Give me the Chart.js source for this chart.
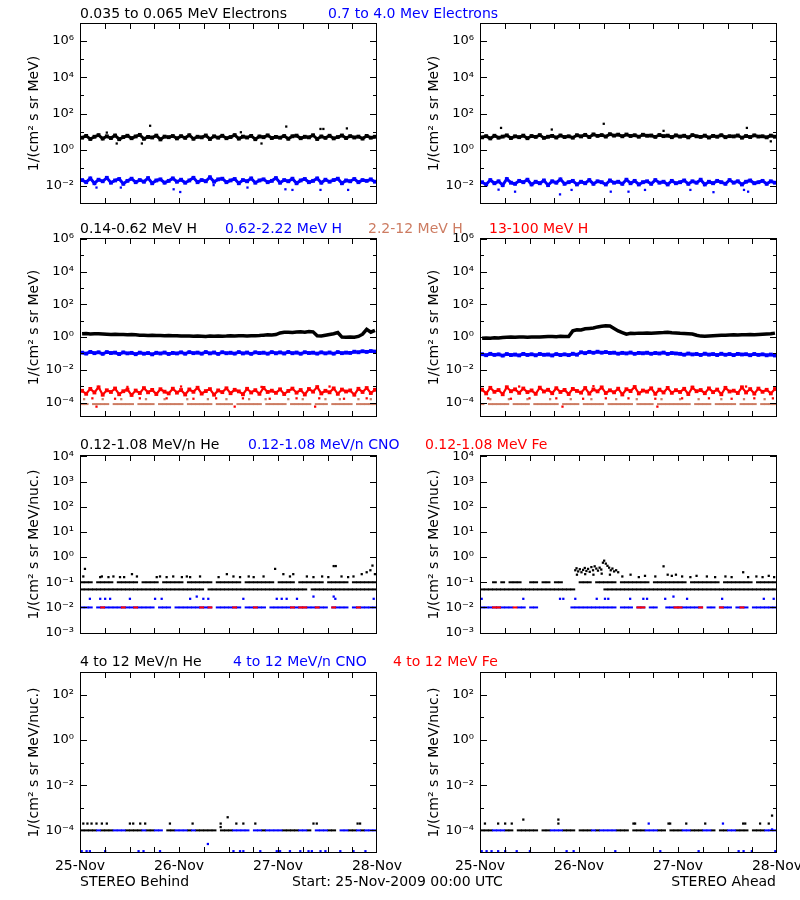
<!DOCTYPE html>
<html>
<head>
<meta charset="utf-8">
<script src="https://cdn.jsdelivr.net/npm/chart.js"></script>
<style>
  body { margin: 0; background: #fff; }
  #page { position: relative; width: 800px; height: 900px; overflow: hidden; font-family: 'DejaVu Sans', sans-serif; color: #000; }
  #page canvas { position: absolute; }
  .lbl { position: absolute; font-size: 14px; line-height: 16px; white-space: nowrap; z-index: 2; }
  .blue { color: #0000ff; }
  .red { color: #ff0000; }
  .salmon { color: #cd7c62; }
</style>
</head>
<body>
<div id="page">
  <div class="lbl" style="left:80px;top:5px">0.035 to 0.065 MeV Electrons</div>
  <div class="lbl blue" style="left:328px;top:5px">0.7 to 4.0 Mev Electrons</div>

  <div class="lbl" style="left:80px;top:220px">0.14-0.62 MeV H</div>
  <div class="lbl blue" style="left:225px;top:220px">0.62-2.22 MeV H</div>
  <div class="lbl salmon" style="left:368px;top:220px">2.2-12 MeV H</div>
  <div class="lbl red" style="left:489px;top:220px">13-100 MeV H</div>

  <div class="lbl" style="left:80px;top:436px">0.12-1.08 MeV/n He</div>
  <div class="lbl blue" style="left:248px;top:436px">0.12-1.08 MeV/n CNO</div>
  <div class="lbl red" style="left:425px;top:436px">0.12-1.08 MeV Fe</div>

  <div class="lbl" style="left:80px;top:653px">4 to 12 MeV/n He</div>
  <div class="lbl blue" style="left:233px;top:653px">4 to 12 MeV/n CNO</div>
  <div class="lbl red" style="left:393px;top:653px">4 to 12 MeV Fe</div>

  <div class="lbl" style="left:80px;top:873px">STEREO Behind</div>
  <div class="lbl" style="left:292px;top:873px">Start: 25-Nov-2009 00:00 UTC</div>
  <div class="lbl" style="right:24px;top:873px">STEREO Ahead</div>
</div>
<script>
const _ = null;

// hourly samples over 25-Nov 00:00 .. 28-Nov 00:00 (x in hours)
const hours = Array.from({ length: 72 }, (v, i) => i + 0.5);
const dayTicks = [0, 24, 48, 72];
const dayLabels = ['25-Nov', '26-Nov', '27-Nov', '28-Nov'];

// ---- row 1: electrons ----
const eBehindLo = [4.6,5.8,3.9,5.2,6.4,4.1,5.5,4.4,6.1,3.8,5.0,5.9,4.3,5.4,6.6,4.0,5.1,4.7,6.0,3.7,5.3,4.9,5.7,4.2,
  5.6,4.5,6.3,4.0,5.2,4.8,6.1,3.9,5.5,4.6,5.9,4.3,5.0,6.4,4.1,5.3,4.7,5.8,3.8,5.4,4.9,6.2,4.4,5.1,
  4.6,5.7,4.0,5.5,6.0,4.3,5.2,4.8,6.3,3.9,5.4,4.5,5.9,4.2,5.0,6.1,4.4,5.6,4.7,5.3,4.1,5.8,4.6,5.2];
const eBehindLoOut = [[6.5,8.8],[8.9,2.2],[15,2.2],[17,21],[39,9.2],[44,2.2],[50,19],[58.3,14],[59,14],[64.7,15]];
const eBehindHi = [0.021,0.016,0.026,0.014,0.022,0.018,0.028,0.015,0.020,0.024,0.013,0.019,0.025,0.016,0.021,0.017,0.027,0.014,0.020,0.023,0.015,0.019,0.026,0.017,
  0.022,0.015,0.020,0.028,0.016,0.021,0.018,0.030,0.017,0.023,0.025,0.016,0.020,0.024,0.014,0.021,0.018,0.026,0.015,0.020,0.023,0.016,0.019,0.027,
  0.015,0.021,0.018,0.025,0.014,0.020,0.024,0.016,0.019,0.026,0.015,0.022,0.017,0.021,0.025,0.014,0.020,0.018,0.024,0.016,0.021,0.019,0.023,0.017];
const eBehindHiOut = [[4,0.0081],[9.9,0.0081],[22.7,0.0065],[24.3,0.0046],[32.4,0.011],[40.6,0.0081],[49.8,0.0065],[51.5,0.006],[58.3,0.006],[65,0.006]];

const eAheadLo = [4.8,5.6,4.2,5.9,4.6,5.3,6.2,4.4,5.5,4.9,6.0,4.3,5.7,5.1,6.4,4.5,5.2,5.8,4.7,6.1,5.0,5.5,4.6,6.3,
  5.4,6.6,5.0,7.0,5.8,6.4,5.3,7.2,6.0,6.8,5.5,6.9,5.7,6.3,5.2,6.7,5.9,6.1,5.1,6.5,5.6,6.0,4.9,6.2,
  5.3,5.9,4.8,6.4,5.5,5.1,6.0,4.7,5.8,5.2,6.3,4.9,5.6,5.4,6.1,4.6,5.7,5.0,6.2,5.3,5.5,4.8,6.0,5.2];
const eAheadLoOut = [[5.1,16],[17.4,13],[30,27],[44.5,11],[64.7,16],[70.5,2.9]];
const eAheadHi = [0.016,0.012,0.021,0.014,0.018,0.011,0.024,0.015,0.013,0.019,0.016,0.022,0.012,0.017,0.014,0.020,0.011,0.018,0.015,0.023,0.013,0.016,0.019,0.012,
  0.017,0.014,0.021,0.013,0.018,0.016,0.012,0.020,0.015,0.017,0.013,0.022,0.014,0.019,0.012,0.016,0.018,0.013,0.021,0.015,0.017,0.012,0.019,0.014,
  0.016,0.020,0.013,0.018,0.015,0.022,0.012,0.017,0.014,0.019,0.016,0.013,0.021,0.015,0.018,0.012,0.017,0.020,0.014,0.016,0.019,0.013,0.018,0.015];
const eAheadHiOut = [[4.5,0.0062],[8.5,0.0048],[19.4,0.0034],[22.2,0.006],[31.7,0.0048],[36,0.0048],[40,0.006],[51,0.006],[56.6,0.0045],[64,0.006],[65,0.0048]];

// ---- row 2: protons ----
const pBehind1 = [1.6,1.65,1.55,1.6,1.62,1.55,1.5,1.45,1.48,1.42,1.45,1.4,1.43,1.38,1.3,1.28,1.25,1.3,1.24,1.27,1.22,1.26,1.2,1.23,
  1.18,1.15,1.17,1.12,1.16,1.14,1.1,1.15,1.13,1.16,1.12,1.15,1.2,1.18,1.22,1.19,1.17,1.21,1.2,1.24,1.32,1.38,1.35,1.42,
  1.8,1.95,2.0,1.9,2.05,2.1,2.0,2.2,2.1,1.2,1.18,1.3,1.45,1.6,1.9,1.0,0.98,1.02,0.97,1.1,1.5,3.0,2.0,2.6];
const pBehind2 = [0.112,0.098,0.124,0.104,0.118,0.095,0.121,0.106,0.113,0.092,0.116,0.101,0.109,0.09,0.112,0.097,0.106,0.088,0.11,0.099,0.114,0.093,0.108,0.1,
  0.117,0.096,0.12,0.104,0.113,0.097,0.122,0.101,0.115,0.094,0.119,0.103,0.111,0.098,0.121,0.1,0.114,0.095,0.118,0.105,0.112,0.097,0.12,0.102,
  0.116,0.099,0.123,0.103,0.114,0.096,0.119,0.106,0.112,0.098,0.117,0.101,0.115,0.097,0.121,0.104,0.113,0.108,0.128,0.118,0.136,0.125,0.14,0.13];
const pBehind3 = [8e-5,8e-5,_,8e-5,8e-5,8e-5,8e-5,_,8e-5,8e-5,8e-5,8e-5,8e-5,_,8e-5,8e-5,8e-5,8e-5,_,8e-5,8e-5,8e-5,8e-5,8e-5,
  8e-5,_,8e-5,8e-5,8e-5,8e-5,8e-5,8e-5,_,8e-5,8e-5,8e-5,8e-5,_,8e-5,8e-5,8e-5,8e-5,8e-5,8e-5,_,8e-5,8e-5,8e-5,
  8e-5,8e-5,_,8e-5,8e-5,8e-5,8e-5,8e-5,_,8e-5,8e-5,8e-5,_,8e-5,8e-5,8e-5,8e-5,8e-5,_,8e-5,8e-5,8e-5,8e-5,8e-5];
const pBehind3Out = [[1,1.6e-4],[5.5,1.6e-4],[10,1.6e-4],[16,1.6e-4],[20.5,1.6e-4],[26,1.6e-4],[31,1.6e-4],[35.5,1.6e-4],[41,1.6e-4],[45,1.6e-4],[50.5,1.6e-4],[54,1.6e-4],[59.5,1.6e-4],[63,1.6e-4],[67.5,1.6e-4],[70.5,1.6e-4]];
const pBehind4 = [5.2e-4,3.4e-4,6.8e-4,4.1e-4,8.5e-4,3.0e-4,5.6e-4,4.4e-4,7.2e-4,3.2e-4,4.9e-4,6.1e-4,2.9e-4,5.4e-4,3.8e-4,7.6e-4,4.2e-4,5.9e-4,3.3e-4,6.5e-4,4.6e-4,3.6e-4,7.0e-4,4.0e-4,
  5.8e-4,3.1e-4,6.3e-4,4.5e-4,8.0e-4,3.5e-4,5.0e-4,6.6e-4,3.0e-4,5.5e-4,4.3e-4,7.4e-4,3.7e-4,6.0e-4,4.8e-4,3.2e-4,6.9e-4,4.1e-4,5.7e-4,3.4e-4,7.8e-4,4.4e-4,5.3e-4,3.9e-4,
  6.4e-4,3.3e-4,5.1e-4,7.1e-4,4.0e-4,5.8e-4,3.1e-4,6.7e-4,4.6e-4,8.8e-4,3.6e-4,5.2e-4,4.2e-4,7.3e-4,3.4e-4,6.2e-4,4.7e-4,5.5e-4,3.0e-4,6.9e-4,4.4e-4,7.7e-4,3.8e-4,6.0e-4];
const pBehind4Out = [[3,1.8e-4],[8.5,1.7e-4],[14.5,1.8e-4],[21,1.8e-4],[27.5,1.7e-4],[33,1.8e-4],[39.5,1.8e-4],[46,1.7e-4],[52.5,1.8e-4],[58,1.8e-4],[64,1.7e-4],[69.5,1.8e-4],[4,5.6e-5],[37.5,5.6e-5],[57,5.6e-5],
  [11.5,9e-4],[24.5,9.5e-4],[44,9e-4],[60.5,9.5e-4]];

const pAhead1 = [0.85,0.88,0.86,0.9,0.87,0.95,0.98,1.0,0.97,1.02,1.0,0.99,1.03,1.01,1.0,1.05,1.08,1.1,1.06,1.12,1.1,1.08,2.4,2.8,
  2.7,3.2,3.4,3.6,4.2,4.6,5.0,4.8,3.4,2.4,1.9,1.5,1.7,1.65,1.75,1.7,1.8,1.72,1.78,1.85,1.9,2.0,1.85,1.8,
  1.7,1.65,1.6,1.55,1.3,1.15,1.12,1.18,1.22,1.25,1.28,1.3,1.35,1.38,1.36,1.4,1.37,1.42,1.4,1.45,1.5,1.55,1.6,1.75];
const pAhead2 = [0.09,0.078,0.095,0.082,0.088,0.074,0.092,0.08,0.086,0.076,0.094,0.081,0.089,0.077,0.093,0.083,0.087,0.075,0.091,0.08,0.088,0.079,0.096,0.084,
  0.118,0.104,0.125,0.11,0.128,0.112,0.122,0.108,0.112,0.097,0.109,0.1,0.114,0.095,0.108,0.102,0.111,0.096,0.107,0.099,0.113,0.094,0.106,0.1,
  0.095,0.084,0.099,0.087,0.093,0.081,0.097,0.085,0.091,0.08,0.096,0.083,0.092,0.079,0.094,0.086,0.09,0.078,0.093,0.082,0.088,0.077,0.086,0.075];
const pAhead3 = [8e-5,_,8e-5,8e-5,8e-5,8e-5,8e-5,_,8e-5,8e-5,8e-5,8e-5,_,8e-5,8e-5,8e-5,8e-5,8e-5,8e-5,_,8e-5,8e-5,8e-5,8e-5,
  _,8e-5,8e-5,8e-5,8e-5,8e-5,_,8e-5,8e-5,8e-5,8e-5,8e-5,8e-5,_,8e-5,8e-5,8e-5,8e-5,_,8e-5,8e-5,8e-5,8e-5,8e-5,
  8e-5,8e-5,8e-5,_,8e-5,8e-5,8e-5,8e-5,_,8e-5,8e-5,8e-5,8e-5,8e-5,_,8e-5,8e-5,8e-5,8e-5,_,8e-5,8e-5,8e-5,8e-5];
const pAhead3Out = [[2.5,1.6e-4],[7,1.6e-4],[11.5,1.6e-4],[17,1.6e-4],[22,1.6e-4],[27,1.6e-4],[33,1.6e-4],[38,1.6e-4],[44,1.6e-4],[48.5,1.6e-4],[53,1.6e-4],[58.5,1.6e-4],[64,1.6e-4],[69,1.6e-4]];
const pAhead4 = [6.1e-4,3.6e-4,7.9e-4,4.5e-4,5.8e-4,3.2e-4,8.6e-4,4.9e-4,6.4e-4,3.9e-4,7.2e-4,4.3e-4,5.5e-4,3.4e-4,8.1e-4,4.7e-4,6.0e-4,3.7e-4,7.5e-4,4.4e-4,5.9e-4,3.3e-4,6.8e-4,5.1e-4,
  4.0e-4,7.7e-4,3.5e-4,6.3e-4,4.8e-4,8.4e-4,3.8e-4,5.6e-4,4.2e-4,7.0e-4,3.1e-4,6.5e-4,5.0e-4,8.9e-4,3.6e-4,5.4e-4,4.6e-4,7.4e-4,3.4e-4,6.1e-4,4.1e-4,7.8e-4,3.9e-4,5.7e-4,
  4.4e-4,6.9e-4,3.3e-4,8.2e-4,4.9e-4,5.8e-4,3.7e-4,7.3e-4,4.3e-4,6.2e-4,3.2e-4,7.9e-4,4.7e-4,5.3e-4,3.8e-4,8.5e-4,4.1e-4,6.6e-4,3.5e-4,7.1e-4,4.5e-4,6.0e-4,3.6e-4,6.7e-4];
const pAhead4Out = [[2,1.8e-4],[7.5,1.7e-4],[12,1.8e-4],[18.5,1.8e-4],[25,1.7e-4],[30.5,1.8e-4],[36,1.8e-4],[42.5,1.7e-4],[49,1.8e-4],[55.5,1.8e-4],[61,1.7e-4],[66.5,1.8e-4],[71,1.8e-4],[20,5.6e-5],[43,5.6e-5],
  [9.5,9.5e-4],[27.5,1e-3],[51.5,9e-4],[64.5,9.5e-4]];

// ---- row 3: 0.12-1.08 MeV/n heavy ions ----
const heBehindA = [.052,.052,.052,.052,.052,.052,.052,.052,.052,.052,.052,.052,.052,.052,.052,.052,.052,.052,.052,.052,.052,.052,.052,.052,
  .052,.052,.052,.052,.052,.052,_,.052,.052,.052,.052,.052,.052,.052,.052,.052,.052,.052,.052,.052,.052,.052,.052,.052,
  .052,.052,.052,.052,.052,.052,.052,_,.052,.052,.052,.052,.052,.052,.052,.052,.052,.052,.052,.052,.052,.052,.052,.052];
const heBehindB = [.1,.1,.1,_,.1,.1,.1,.1,_,.1,.1,.1,.1,.1,_,.1,.1,.1,.1,_,.1,.1,.1,.1,
  .1,_,.1,.1,.1,.1,.1,.1,_,.1,.1,.1,.1,.1,.1,_,.1,.1,.1,.1,.1,.1,.1,_,
  .1,.1,.1,.1,_,.1,.1,.1,.1,.1,.1,_,.1,.1,.1,.1,.1,_,.1,.1,.1,.1,.1,.1];
const heBehindOut = [[0.8,0.17],[1.2,0.34],[4.9,0.16],[5.3,0.17],[6.9,0.16],[8.1,0.17],[9.7,0.16],[10.7,0.16],[12.6,0.21],[13.8,0.17],[18.6,0.16],[19.4,0.17],[21,0.16],[22.6,0.17],
  [24.7,0.16],[25.9,0.17],[26.7,0.16],[29.1,0.17],[33.6,0.16],[35.6,0.21],[37.2,0.17],[38.8,0.16],[40.9,0.17],[42.1,0.16],[44.5,0.17],[47.3,0.34],[49.3,0.21],[50.9,0.17],
  [51.7,0.21],[55,0.17],[56.6,0.16],[58.7,0.17],[60.2,0.16],[61.5,0.44],[62,0.44],[63.4,0.17],[65,0.16],[66.3,0.17],[68.3,0.21],[69.5,0.25],[70.4,0.3],[70.9,0.46],[71.5,0.21]];
const cnoBehindA = [.01,.01,.01,_,.01,.01,.01,.01,.01,.01,.01,.01,.01,.01,.01,.01,.01,.01,_,.01,.01,.01,_,.01,
  .01,.01,.01,.01,.01,.01,.01,.01,_,.01,.01,.01,.01,.01,.01,_,.01,.01,.01,.01,.01,_,.01,.01,
  .01,.01,.01,.01,.01,.01,.01,.01,.01,.01,.01,.01,_,.01,.01,.01,.01,_,.01,.01,.01,.01,.01,.01];
const cnoBehindOut = [[2.4,0.022],[4.9,0.022],[6.1,0.022],[7.3,0.022],[12.1,0.022],[18.2,0.022],[19.8,0.022],[26.7,0.022],[28.3,0.027],[29.9,0.022],[31.1,0.022],[39.6,0.022],
  [47.7,0.022],[48.9,0.022],[50.1,0.022],[52.6,0.022],[56.6,0.027],[61.5,0.027],[61.9,0.022],[71.2,0.022]];
const feBehindA = [_,_,_,_,_,.01,_,_,_,_,.01,_,_,.01,_,_,_,_,_,_,_,_,_,_,
  _,_,_,_,_,.01,_,.01,_,_,_,_,_,.01,_,_,_,_,.01,_,_,_,_,_,
  _,_,_,.01,_,.01,.01,_,_,.01,_,_,_,.01,_,_,_,_,_,.01,_,_,_,_];

const heAheadA = [.052,.052,.052,.052,.052,.052,.052,.052,.052,.052,.052,.052,.052,.052,.052,.052,.052,.052,.052,.052,.052,.052,.052,_,
  _,_,_,_,_,_,.052,.052,.052,.052,.052,.052,.052,.052,.052,.052,.052,.052,.052,.052,.052,.052,.052,.052,
  .052,.052,.052,.052,.052,.052,.052,.052,.052,.052,.052,.052,.052,.052,.052,.052,.052,.052,.052,.052,.052,.052,.052,.052];
const heAheadB = [_,_,_,.1,_,.1,_,.1,.1,.1,_,_,.1,.1,_,.1,.1,_,.1,.1,_,_,_,_,
  .1,.1,.1,_,.1,.1,.1,.1,.1,_,.1,.1,.1,.1,.1,.1,.1,_,.1,.1,.1,.1,.1,.1,
  .1,.1,_,.1,.1,.1,.1,.1,.1,.1,_,.1,.1,.1,.1,.1,.1,.1,_,.1,.1,.1,.1,.1];
const heAheadOut = [[23.1,0.3],[23.4,0.36],[23.8,0.27],[24.2,0.33],[24.6,0.25],[25,0.31],[25.4,0.37],[25.8,0.28],[26.2,0.34],[26.6,0.26],[27,0.4],[27.4,0.3],[27.8,0.43],
  [28.2,0.35],[28.6,0.29],[29,0.38],[29.4,0.32],[29.8,0.6],[30.1,0.72],[30.5,0.55],[30.9,0.45],[31.3,0.38],[31.7,0.3],[32.1,0.35],[32.5,0.27],[33,0.3],[33.5,0.25],
  [23.5,0.2],[25.5,0.21],[27.5,0.2],[29.5,0.22],[31.5,0.2],[34.5,0.17],[36.5,0.2],[38.5,0.16],[40,0.18],[42.5,0.17],[44.5,0.43],[45.5,0.2],[46.5,0.18],[47.5,0.2],
  [49,0.17],[51,0.16],[52.5,0.18],[55,0.17],[57,0.16],[59.5,0.17],[61,0.16],[63.8,0.25],[65,0.16],[67,0.17],[68.5,0.16],[70,0.18],[71.3,0.16]];
const cnoAheadA = [.01,.01,.01,.01,.01,.01,.01,.01,_,.01,.01,_,.01,.01,_,_,_,_,_,_,_,_,.01,.01,
  .01,.01,.01,.01,.01,.01,.01,.01,.01,_,.01,.01,.01,_,.01,.01,_,.01,.01,_,_,.01,.01,.01,
  .01,.01,.01,.01,.01,.01,_,.01,.01,_,.01,.01,.01,_,.01,.01,.01,_,.01,.01,.01,.01,.01,.01];
const cnoAheadOut = [[0.4,0.022],[10.5,0.022],[19.4,0.022],[20.2,0.022],[23.1,0.022],[28.3,0.022],[30.3,0.022],[31.1,0.022],[36.4,0.022],[39.6,0.022],[40.5,0.022],
  [44.9,0.022],[46.9,0.027],[50.2,0.022],[58.7,0.022],[68.8,0.022],[71.2,0.022]];
const feAheadA = [_,_,_,.01,.01,_,_,_,.01,_,_,_,_,_,_,_,_,_,_,_,_,_,_,_,
  _,_,_,_,_,_,_,_,_,_,_,_,_,_,.01,.01,_,_,_,_,_,_,_,.01,
  .01,_,_,_,_,.01,_,_,_,_,.01,_,_,_,_,.01,_,_,_,_,_,_,_,_];

// ---- row 4: 4-12 MeV/n heavy ions ----
const he4BehindA = [1e-4,1e-4,1e-4,1e-4,_,1e-4,1e-4,1e-4,_,_,_,1e-4,1e-4,1e-4,1e-4,_,1e-4,1e-4,_,_,_,1e-4,1e-4,_,
  _,_,1e-4,_,1e-4,1e-4,1e-4,1e-4,1e-4,_,1e-4,1e-4,1e-4,_,_,_,_,_,_,_,1e-4,_,_,_,
  _,1e-4,1e-4,1e-4,1e-4,_,_,1e-4,_,_,_,_,1e-4,1e-4,_,_,_,1e-4,1e-4,_,1e-4,_,_,_];
const he4BehindOut = [[0.8,2e-4],[1.8,2e-4],[2.8,2e-4],[4,2e-4],[5.3,2e-4],[6.5,2e-4],[12.1,2e-4],[12.9,2e-4],[14.6,2e-4],[15.8,2e-4],[21.8,2e-4],[27.3,2e-4],
  [34.1,2e-4],[34.1,1.4e-4],[35.8,3.8e-4],[37.9,2e-4],[39.6,2e-4],[42.5,2e-4],[56.6,2e-4],[57.4,2e-4],[67.3,2e-4],[67.9,2e-4]];
const cno4BehindA = [_,_,_,_,1e-4,_,_,_,1e-4,1e-4,1e-4,_,_,_,_,1e-4,_,_,1e-4,1e-4,_,_,_,1e-4,
  1e-4,1e-4,_,1e-4,_,_,_,_,_,_,_,_,_,1e-4,1e-4,1e-4,1e-4,_,1e-4,1e-4,_,1e-4,1e-4,1e-4,
  1e-4,_,_,_,_,1e-4,1e-4,_,_,1e-4,1e-4,1e-4,_,_,_,1e-4,1e-4,_,_,1e-4,_,1e-4,1e-4,1e-4];
const cno4BehindOut = [[0.4,1.2e-5],[1.6,1.2e-5],[2.4,1.2e-5],[6.1,1.2e-5],[14.2,1.2e-5],[15.4,1.2e-5],[19.4,1.2e-5],[31,2.5e-5],[37.2,1.2e-5],[38.8,1.2e-5],[39.6,1.2e-5],
  [43.7,1.2e-5],[47.7,1.2e-5],[48.5,1.2e-5],[50.9,1.2e-5],[53.4,1.2e-5],[55.4,1.2e-5],[56.2,1.2e-5],[58.3,1.2e-5],[59.5,1.2e-5],[63.1,1.2e-5],[66.3,1.2e-5],[69.2,1.2e-5]];

const he4AheadA = [1e-4,1e-4,1e-4,_,_,_,1e-4,1e-4,_,1e-4,1e-4,1e-4,1e-4,1e-4,_,1e-4,1e-4,_,_,_,1e-4,1e-4,1e-4,_,
  1e-4,1e-4,1e-4,_,1e-4,_,_,_,_,1e-4,1e-4,1e-4,_,1e-4,1e-4,1e-4,_,_,_,1e-4,1e-4,_,1e-4,1e-4,
  1e-4,_,_,1e-4,1e-4,1e-4,_,_,1e-4,_,1e-4,1e-4,_,_,1e-4,1e-4,1e-4,_,1e-4,1e-4,1e-4,_,_,_];
const he4AheadOut = [[1.2,2e-4],[4.4,2e-4],[6.1,2e-4],[7.7,2e-4],[10.5,3e-4],[19,2e-4],[19,3e-4],[37.2,2e-4],[37.6,2e-4],[45.7,2e-4],[46.1,2e-4],[50,2e-4],
  [54.6,2e-4],[63.8,2e-4],[64.3,2e-4],[67.9,2e-4],[70,2e-4],[70.8,4.5e-4]];
const cno4AheadA = [_,_,_,1e-4,1e-4,1e-4,_,_,_,_,_,_,_,_,_,_,_,1e-4,1e-4,1e-4,_,_,_,_,
  _,_,_,1e-4,_,1e-4,1e-4,1e-4,1e-4,_,_,_,_,_,_,_,1e-4,1e-4,1e-4,_,_,_,_,_,
  _,1e-4,1e-4,_,_,_,1e-4,1e-4,_,_,_,_,1e-4,1e-4,_,_,_,_,_,_,_,1e-4,1e-4,1e-4];
const cno4AheadOut = [[0.4,1.2e-5],[1.6,1.2e-5],[2.8,1.2e-5],[4.4,1.2e-5],[6.1,1.2e-5],[8.9,1.2e-5],[12.1,1.2e-5],[21,1.2e-5],[22.7,1.2e-5],[32.8,1.2e-5],[43.7,1.2e-5],
  [53,1.2e-5],[62.7,1.2e-5],[63.9,1.2e-5],[65.9,1.2e-5],[71.6,1.2e-5],[40.9,2e-4],[58.9,2e-4],[70.8,1.1e-4]];

const BLACK = '#000000', BLUE = '#0000ff', RED = '#ff0000', SALMON = '#cd7c62';

const band = (d, c, w) => ({ kind: 'band', d, c, w });
const line = (d, c) => ({ kind: 'line', d, c });
const level = (d, c) => ({ kind: 'level', d, c });
const dots = (d, c) => ({ kind: 'dots', d, c });

const rows = [
  { top: 23, min: 1e-3, max: 1e7, major: [1e-2, 1, 1e2, 1e4, 1e6], minor: [1e-1, 10, 1e3, 1e5], unit: '1/(cm² s sr MeV)' },
  { top: 238, min: 1.3e-5, max: 1.15e6, major: [1e-4, 1e-2, 1, 1e2, 1e4, 1e6], minor: [1e-3, 1e-1, 10, 1e3, 1e5], unit: '1/(cm² s sr MeV)' },
  { top: 455, min: 8.8e-4, max: 1.14e4, major: [1e-3, 1e-2, 1e-1, 1, 10, 1e2, 1e3, 1e4], minor: [], unit: '1/(cm² s sr MeV/nuc.)' },
  { top: 672, min: 1e-5, max: 1e3, major: [1e-4, 1e-2, 1, 1e2], minor: [1e-3, 1e-1, 10], unit: '1/(cm² s sr MeV/nuc.)', dates: true }
];

const panels = [
  { row: 0, col: 0, series: [band(eBehindLo, BLACK, 3), dots(eBehindLoOut, BLACK), band(eBehindHi, BLUE, 3), dots(eBehindHiOut, BLUE)] },
  { row: 0, col: 1, series: [band(eAheadLo, BLACK, 3), dots(eAheadLoOut, BLACK), band(eAheadHi, BLUE, 3), dots(eAheadHiOut, BLUE)] },
  { row: 1, col: 0, series: [line(pBehind1, BLACK), band(pBehind2, BLUE, 3), level(pBehind3, SALMON), dots(pBehind3Out, SALMON), band(pBehind4, RED, 2.2), dots(pBehind4Out, RED)] },
  { row: 1, col: 1, series: [line(pAhead1, BLACK), band(pAhead2, BLUE, 3), level(pAhead3, SALMON), dots(pAhead3Out, SALMON), band(pAhead4, RED, 2.2), dots(pAhead4Out, RED)] },
  { row: 2, col: 0, series: [level(heBehindA, BLACK), level(heBehindB, BLACK), dots(heBehindOut, BLACK), level(cnoBehindA, BLUE), dots(cnoBehindOut, BLUE), level(feBehindA, RED)] },
  { row: 2, col: 1, series: [level(heAheadA, BLACK), level(heAheadB, BLACK), dots(heAheadOut, BLACK), level(cnoAheadA, BLUE), dots(cnoAheadOut, BLUE), level(feAheadA, RED)] },
  { row: 3, col: 0, series: [level(he4BehindA, BLACK), dots(he4BehindOut, BLACK), level(cno4BehindA, BLUE), dots(cno4BehindOut, BLUE)] },
  { row: 3, col: 1, series: [level(he4AheadA, BLACK), dots(he4AheadOut, BLACK), level(cno4AheadA, BLUE), dots(cno4AheadOut, BLUE)] }
];

const SUP = { '-': '⁻', '0': '⁰', '1': '¹', '2': '²', '3': '³', '4': '⁴', '5': '⁵', '6': '⁶', '7': '⁷', '8': '⁸', '9': '⁹' };
const pow10 = v => '10' + String(Math.round(Math.log10(v))).split('').map(ch => SUP[ch]).join('');

function toDataset(s) {
  const base = { borderColor: s.c, backgroundColor: s.c, pointBackgroundColor: s.c, pointBorderColor: s.c,
    clip: { left: 0, top: 0, right: 0, bottom: 0 }, spanGaps: false };
  if (s.kind === 'dots') {
    return { ...base, data: s.d.map(([x, y]) => ({ x, y })), showLine: false, pointStyle: 'rect', pointRadius: 1.6, pointBorderWidth: 0 };
  }
  const data = hours.map((h, i) => ({ x: h, y: s.d[i] }));
  if (s.kind === 'band') return { ...base, data, showLine: true, borderWidth: s.w, pointStyle: 'rect', pointRadius: 2.7, pointBorderWidth: 0 };
  if (s.kind === 'line') return { ...base, data, showLine: true, borderWidth: 3.5, pointRadius: 0 };
  return { ...base, data, showLine: false, pointStyle: 'line', pointRadius: 2.4, pointBorderWidth: 2 };
}

// box with IDL style inward ticks on all four sides
const frame = {
  id: 'frame',
  afterDatasetsDraw(chart, args, opts) {
    const { ctx, chartArea: a, scales: { x, y } } = chart;
    ctx.save();
    ctx.strokeStyle = '#000';
    ctx.lineWidth = 1;
    ctx.strokeRect(a.left + 0.5, a.top + 0.5, a.right - a.left - 1, a.bottom - a.top - 1);
    ctx.beginPath();
    const ytick = (v, len) => {
      const p = Math.round(y.getPixelForValue(v)) + 0.5;
      ctx.moveTo(a.left, p); ctx.lineTo(a.left + len, p);
      ctx.moveTo(a.right, p); ctx.lineTo(a.right - len, p);
    };
    opts.major.forEach(v => ytick(v, 7));
    opts.minor.forEach(v => ytick(v, 4));
    [6, 12, 18, 24, 30, 36, 42, 48, 54, 60, 66].forEach(h => {
      const p = Math.round(x.getPixelForValue(h)) + 0.5;
      ctx.moveTo(p, a.bottom); ctx.lineTo(p, a.bottom - 6);
      ctx.moveTo(p, a.top); ctx.lineTo(p, a.top + 6);
    });
    ctx.stroke();
    ctx.restore();
  }
};

Chart.defaults.font.family = "'DejaVu Sans', sans-serif";
Chart.defaults.color = '#000';

const page = document.getElementById('page');
panels.forEach(p => {
  const r = rows[p.row];
  const W = p.col === 0 ? 430 : 400;
  const padTop = 14;
  const xh = r.dates ? 30 : 4;
  const H = padTop + 181 + xh;
  const cv = document.createElement('canvas');
  cv.width = W; cv.height = H;
  cv.style.width = W + 'px'; cv.style.height = H + 'px';
  cv.style.left = (p.col * 400) + 'px';
  cv.style.top = (r.top - padTop) + 'px';
  page.appendChild(cv);

  new Chart(cv, {
    type: 'line',
    data: { datasets: p.series.map(toDataset).reverse() },
    options: {
      responsive: false,
      animation: false,
      devicePixelRatio: 1,
      layout: { padding: { top: padTop, right: W - 377, bottom: 0, left: 0 } },
      plugins: { legend: { display: false }, tooltip: { enabled: false }, frame: { major: r.major, minor: r.minor } },
      scales: {
        x: {
          type: 'linear', min: 0, max: 72,
          grid: { display: false, drawTicks: false }, border: { display: false },
          ticks: { display: !!r.dates, autoSkip: false, maxRotation: 0, padding: 5, font: { size: 14 }, callback: (v, i) => dayLabels[i] },
          afterBuildTicks: s => { s.ticks = dayTicks.map(v => ({ value: v })); },
          afterFit: s => { s.height = xh; s.paddingLeft = 0; s.paddingRight = 0; }
        },
        y: {
          type: 'logarithmic', position: 'left', min: r.min, max: r.max,
          grid: { display: false, drawTicks: false }, border: { display: false },
          ticks: { autoSkip: false, padding: 6, font: { size: 13 }, callback: v => pow10(v) },
          afterBuildTicks: s => { s.ticks = r.major.map(v => ({ value: v })); },
          title: { display: true, text: r.unit, font: { size: 14 }, padding: { top: 26, bottom: 0 } },
          afterFit: s => { s.width = 80; s.paddingTop = 0; s.paddingBottom = 0; }
        }
      }
    },
    plugins: [frame]
  });
});
</script>
</body>
</html>
